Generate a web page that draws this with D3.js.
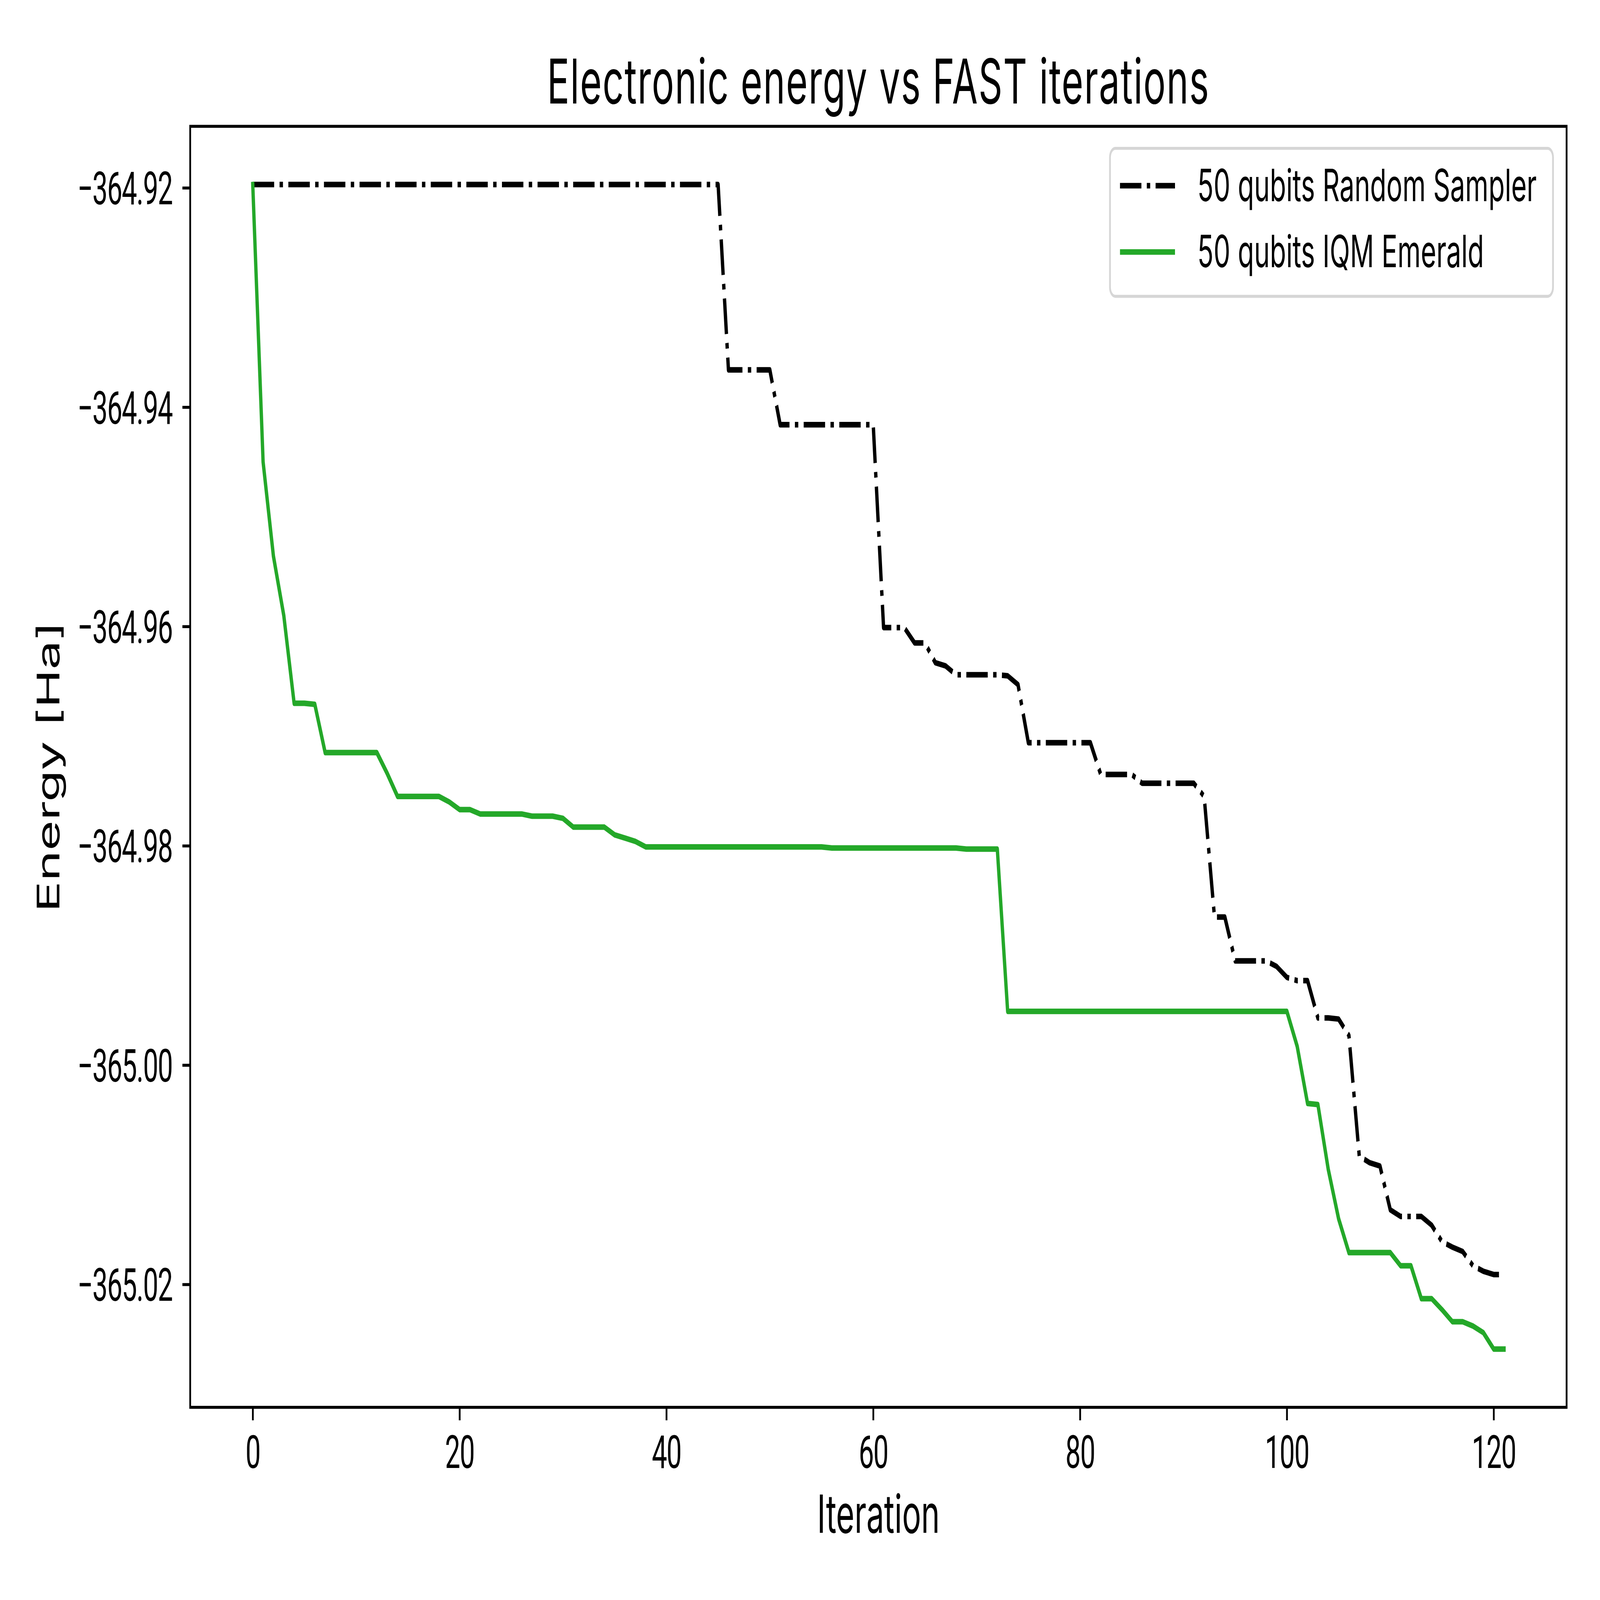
<!DOCTYPE html>
<html>
<head>
<meta charset="utf-8">
<script src="https://cdn.jsdelivr.net/npm/d3@7"></script>
<style>
    html, body { margin: 0; background: #fff; overflow: hidden; }
    svg { display: block; }
    svg text { font-family: Inter, "Noto Sans", sans-serif; fill: #000; }
    .axis text { font-family: Roboto, "Liberation Sans", sans-serif; font-size: 136px; letter-spacing: -3px; }
</style>
</head>
<body>
<svg id="chart"></svg>
<script>
// energy per FAST iteration (index = iteration)
const randomSampler = [
    -364.9197, -364.9197, -364.9197, -364.9197, -364.9197, -364.9197, -364.9197, -364.9197, -364.9197, -364.9197,
    -364.9197, -364.9197, -364.9197, -364.9197, -364.9197, -364.9197, -364.9197, -364.9197, -364.9197, -364.9197,
    -364.9197, -364.9197, -364.9197, -364.9197, -364.9197, -364.9197, -364.9197, -364.9197, -364.9197, -364.9197,
    -364.9197, -364.9197, -364.9197, -364.9197, -364.9197, -364.9197, -364.9197, -364.9197, -364.9197, -364.9197,
    -364.9197, -364.9197, -364.9197, -364.9197, -364.9197, -364.9197, -364.9366, -364.9366, -364.9366, -364.9366,
    -364.9366, -364.9416, -364.9416, -364.9416, -364.9416, -364.9416, -364.9416, -364.9416, -364.9416, -364.9416,
    -364.9416, -364.9601, -364.9601, -364.9601, -364.9615, -364.9615, -364.9633, -364.9636, -364.9644, -364.9644,
    -364.9644, -364.9644, -364.9644, -364.9645, -364.9653, -364.9706, -364.9706, -364.9706, -364.9706, -364.9706,
    -364.9706, -364.9706, -364.9735, -364.9735, -364.9735, -364.9735, -364.9743, -364.9743, -364.9743, -364.9743,
    -364.9743, -364.9743, -364.9755, -364.9865, -364.9865, -364.9905, -364.9905, -364.9905, -364.9905, -364.9910,
    -364.9920, -364.9923, -364.9923, -364.9957, -364.9957, -364.9958, -364.9973, -365.0083, -365.0089, -365.0092,
    -365.0132, -365.0138, -365.0138, -365.0138, -365.0146, -365.0161, -365.0166, -365.0170, -365.0183, -365.0188,
    -365.0191, -365.0191
];

const iqmEmerald = [
    -364.9197, -364.9450, -364.9536, -364.9590, -364.9670, -364.9670, -364.9671, -364.9715, -364.9715, -364.9715,
    -364.9715, -364.9715, -364.9715, -364.9734, -364.9755, -364.9755, -364.9755, -364.9755, -364.9755, -364.9760,
    -364.9767, -364.9767, -364.9771, -364.9771, -364.9771, -364.9771, -364.9771, -364.9773, -364.9773, -364.9773,
    -364.9775, -364.9783, -364.9783, -364.9783, -364.9783, -364.9790, -364.9793, -364.9796, -364.9801, -364.9801,
    -364.9801, -364.9801, -364.9801, -364.9801, -364.9801, -364.9801, -364.9801, -364.9801, -364.9801, -364.9801,
    -364.9801, -364.9801, -364.9801, -364.9801, -364.9801, -364.9801, -364.9802, -364.9802, -364.9802, -364.9802,
    -364.9802, -364.9802, -364.9802, -364.9802, -364.9802, -364.9802, -364.9802, -364.9802, -364.9802, -364.9803,
    -364.9803, -364.9803, -364.9803, -364.9951, -364.9951, -364.9951, -364.9951, -364.9951, -364.9951, -364.9951,
    -364.9951, -364.9951, -364.9951, -364.9951, -364.9951, -364.9951, -364.9951, -364.9951, -364.9951, -364.9951,
    -364.9951, -364.9951, -364.9951, -364.9951, -364.9951, -364.9951, -364.9951, -364.9951, -364.9951, -364.9951,
    -364.9951, -364.9983, -365.0035, -365.0036, -365.0095, -365.0140, -365.0171, -365.0171, -365.0171, -365.0171,
    -365.0171, -365.0183, -365.0183, -365.0213, -365.0213, -365.0223, -365.0234, -365.0234, -365.0238, -365.0244,
    -365.0259, -365.0259
];

const seriesNames = ["50 qubits Random Sampler", "50 qubits IQM Emerald"];
const xTicks = [0, 20, 40, 60, 80, 100, 120];
const yTicks = [-364.92, -364.94, -364.96, -364.98, -365.00, -365.02];

class EnergyChart {
    constructor(_config, _series) {
        this.config = {
            parentElement: _config.parentElement,
            containerWidth: _config.containerWidth || 8000,
            containerHeight: _config.containerHeight || 4800,
            margin: { top: 379, right: 167, bottom: 578, left: 951 }
        }
        this.series = _series;
        this.initVis();
    }

    initVis() {
        let vis = this;
        vis.width = vis.config.containerWidth - vis.config.margin.left - vis.config.margin.right;
        vis.height = vis.config.containerHeight - vis.config.margin.top - vis.config.margin.bottom;

        // matplotlib-ish: 1.5pt lines, 0.8pt spines at 800 dpi
        vis.lw = 16.7;
        vis.spine = 8.9;

        vis.xScale = d3.scaleLinear().range([0, vis.width]);
        vis.yScale = d3.scaleLinear().range([vis.height, 0]);

        vis.xAxis = d3.axisBottom(vis.xScale)
            .tickValues(xTicks)
            .tickFormat(d3.format("d"))
            .tickSize(39)
            .tickSizeOuter(0);
        vis.yAxis = d3.axisLeft(vis.yScale)
            .tickValues(yTicks)
            .tickFormat(d3.format(".2f"))
            .tickSize(39)
            .tickPadding(50)
            .tickSizeOuter(0);

        // the window may not be 8000x4800, so draw in 8000x4800 units and fit it
        vis.svg = d3.select(vis.config.parentElement)
            .attr("viewBox", `0 0 ${vis.config.containerWidth} ${vis.config.containerHeight}`)
            .attr("preserveAspectRatio", "none")
            .attr("width", window.innerWidth)
            .attr("height", window.innerHeight);

        vis.chart = vis.svg.append("g")
            .attr("transform", `translate(${vis.config.margin.left},${vis.config.margin.top})`);

        vis.xAxisG = vis.chart.append("g")
            .attr("class", "axis x-axis")
            .attr("transform", `translate(0,${vis.height})`);
        vis.yAxisG = vis.chart.append("g").attr("class", "axis y-axis");

        vis.svg.append("text")
            .attr("x", vis.config.margin.left + vis.width / 2)
            .attr("y", 310)
            .attr("text-anchor", "middle")
            .style("font-size", "186px")
            .style("letter-spacing", "4px")
            .text("Electronic energy vs FAST iterations");

        vis.svg.append("text")
            .attr("x", vis.config.margin.left + vis.width / 2)
            .attr("y", 4598)
            .attr("text-anchor", "middle")
            .style("font-size", "158px")
            .text("Iteration");

        vis.svg.append("text")
            .attr("transform", `translate(296,${vis.config.margin.top + vis.height / 2}) rotate(-90)`)
            .attr("text-anchor", "middle")
            .style("font-size", "155px")
            .text("Energy [Ha]");

        vis.updateVis();
    }

    updateVis() {
        let vis = this;
        let n = d3.max(vis.series, s => s.values.length) - 1;
        vis.xScale.domain([-0.05 * n, 1.05 * n]);

        let all = [];
        vis.series.forEach(s => s.values.forEach(v => all.push(v)));
        let [lo, hi] = d3.extent(all);
        let pad = 0.05 * (hi - lo);
        vis.yScale.domain([lo - pad, hi + pad]);

        vis.line = d3.line()
            .x((d, i) => vis.xScale(i))
            .y(d => vis.yScale(d));

        vis.renderVis();
    }

    renderVis() {
        let vis = this;

        vis.chart.selectAll(".series")
            .data(vis.series)
            .join("path")
            .attr("class", "series")
            .attr("d", d => vis.line(d.values))
            .attr("fill", "none")
            .attr("stroke", d => d.color)
            .attr("stroke-width", vis.lw)
            .attr("stroke-linejoin", "round")
            .attr("stroke-linecap", d => d.dash ? "butt" : "square")
            .attr("stroke-dasharray", d => d.dash);

        vis.xAxisG.call(vis.xAxis);
        vis.yAxisG.call(vis.yAxis);
        vis.chart.selectAll(".axis .domain").remove();
        vis.chart.selectAll(".axis .tick line").attr("stroke-width", vis.spine);
        vis.xAxisG.selectAll("text").attr("y", 182).attr("dy", null);
        vis.yAxisG.selectAll("text").attr("dy", "0.36em");

        // frame
        vis.chart.append("rect")
            .attr("width", vis.width)
            .attr("height", vis.height)
            .attr("fill", "none")
            .attr("stroke", "#000")
            .attr("stroke-width", vis.spine);

        // legend, upper right
        let lg = vis.chart.append("g")
            .attr("transform", `translate(${vis.width - 68 - 2215},66)`);
        lg.append("rect")
            .attr("width", 2215)
            .attr("height", 444)
            .attr("rx", 27)
            .attr("fill", "#fff")
            .attr("fill-opacity", 0.8)
            .attr("stroke", "#d6d6d6")
            .attr("stroke-width", vis.spine);

        let rows = lg.selectAll(".lg-row")
            .data(vis.series)
            .join("g")
            .attr("class", "lg-row")
            .attr("transform", (d, i) => `translate(0,${112 + i * 199})`);
        rows.append("line")
            .attr("x1", 50)
            .attr("x2", 325)
            .attr("stroke", d => d.color)
            .attr("stroke-width", vis.lw)
            .attr("stroke-dasharray", d => d.dash);
        rows.append("text")
            .attr("x", 437)
            .attr("y", 46)
            .style("font-size", "133px")
            .text(d => d.name);
    }
}

let chart = new EnergyChart({ parentElement: "#chart" }, [
    { name: seriesNames[0], values: randomSampler, color: "#000000", dash: "107,27,17,27" },
    { name: seriesNames[1], values: iqmEmerald, color: "#24a829", dash: null }
]);
</script>
</body>
</html>
